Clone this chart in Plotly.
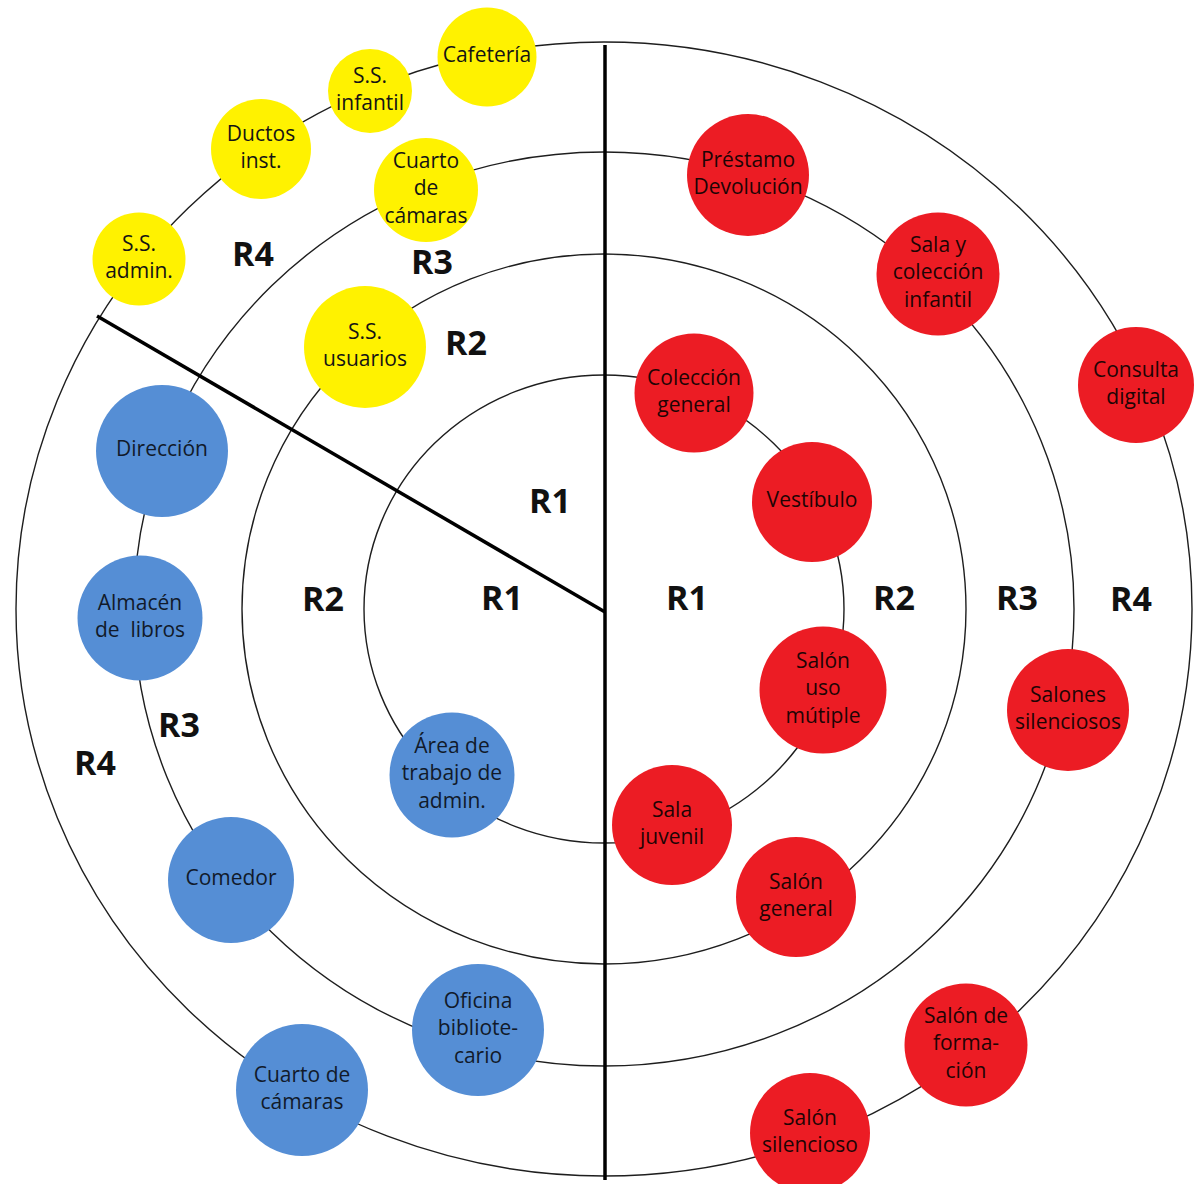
import plotly.graph_objects as go

# ---------------- data ----------------
# concentric zones (centre and half-axes, in picture units)
center_x, center_y = 604, 609
ring_names = ["R1", "R2", "R3", "R4"]
ring_rx = [240, 362, 470, 588]
ring_ry = [234, 355, 457, 567]

# zone labels
zone_labels = ["R4", "R3", "R2", "R1", "R1", "R2", "R3", "R4",
               "R1", "R2", "R3", "R4"]
zone_x = [253, 432, 466, 550, 502, 323, 179, 95, 687, 894, 1017, 1131]
zone_y = [257, 265, 346, 504, 601, 602, 728, 766, 601, 601, 601, 602]

# dividing lines (vertical axis and the admin/services divider)
divider_x = [[605, 605], [605, 97]]
divider_y = [[45, 1180], [612, 316]]

# spaces (nodes): label, group, x, y, diameter
node_labels = [
    "Cafetería", "S.S.<br>infantil", "Ductos<br>inst.", "S.S.<br>admin.",
    "Cuarto<br>de<br>cámaras", "S.S.<br>usuarios",
    "Dirección", "Almacén<br>de  libros", "Área de<br>trabajo de<br>admin.",
    "Comedor", "Oficina<br>bibliote-<br>cario", "Cuarto de<br>cámaras",
    "Préstamo<br>Devolución", "Sala y<br>colección<br>infantil",
    "Consulta<br>digital", "Colección<br>general", "Vestíbulo",
    "Salón<br>uso<br>mútiple", "Salones<br>silenciosos", "Sala<br>juvenil",
    "Salón<br>general", "Salón de<br>forma-<br>ción", "Salón<br>silencioso",
]
node_group = ["servicios"] * 6 + ["administración"] * 6 + ["público"] * 11
node_x = [487, 370, 261, 139, 426, 365,
          162, 140, 452, 231, 478, 302,
          748, 938, 1136, 694, 812, 823, 1068, 672, 796, 966, 810]
node_y = [57, 91, 149, 259, 190, 347,
          451, 618, 775, 880, 1030, 1090,
          175, 274, 385, 393, 502, 690, 710, 825, 897, 1045, 1133]
node_d = [99, 84, 100, 93, 104, 122,
          132, 125, 125, 126, 132, 132,
          122, 123, 116, 119, 120, 127, 122, 120, 120, 123, 120]

group_colors = {"servicios": "#FFF200", "administración": "#558ED5",
                "público": "#EC1C24"}
group_text = {"servicios": "#141414", "administración": "#111a2a",
              "público": "#1e0404"}

# ---------------- figure ----------------
W, H = 1195, 1184
fig = go.Figure()

shapes = []
for rx, ry in zip(ring_rx, ring_ry):
    shapes.append(dict(type="circle", xref="x", yref="y",
                       x0=center_x - rx, x1=center_x + rx,
                       y0=center_y - ry, y1=center_y + ry,
                       line=dict(color="#1e1e1e", width=1.4), layer="below"))
for xs, ys in zip(divider_x, divider_y):
    shapes.append(dict(type="line", xref="x", yref="y",
                       x0=xs[0], x1=xs[1], y0=ys[0], y1=ys[1],
                       line=dict(color="#000000", width=3.5), layer="below"))

fig.add_trace(go.Scatter(
    x=node_x, y=node_y, mode="markers+text",
    marker=dict(size=node_d, color=[group_colors[g] for g in node_group],
                line=dict(width=0), opacity=1),
    text=node_labels, textposition="middle center",
    textfont=dict(family="Open Sans", size=21,
                  color=[group_text[g] for g in node_group]),
    hoverinfo="skip", cliponaxis=False,
))

fig.add_trace(go.Scatter(
    x=zone_x, y=zone_y, mode="text", text=zone_labels,
    textposition="middle center",
    textfont=dict(family="Open Sans", size=34, color="#111111", weight="bold"),
    hoverinfo="skip", cliponaxis=False,
))

fig.update_layout(
    width=W, height=H, margin=dict(l=0, r=0, t=0, b=0),
    paper_bgcolor="white", plot_bgcolor="white", showlegend=False,
    shapes=shapes,
    xaxis=dict(range=[0, W], visible=False, fixedrange=True),
    yaxis=dict(range=[H, 0], visible=False, fixedrange=True),
)

fig.write_html("out.html", config={"displayModeBar": False},
               post_script="document.body.style.margin='0';")
